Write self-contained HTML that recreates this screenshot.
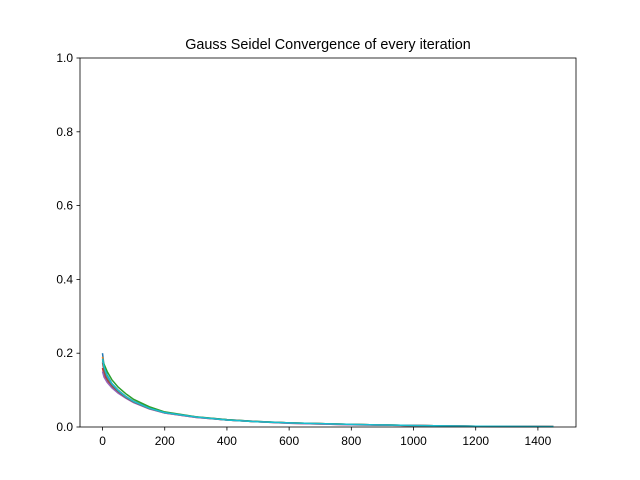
<!DOCTYPE html>
<html><head><meta charset="utf-8"><style>
body{margin:0;background:#fff;}
svg{display:block;font-family:"Liberation Sans",sans-serif;}
</style></head><body>
<svg id="chart" width="640" height="480" xmlns="http://www.w3.org/2000/svg">
<rect width="640" height="480" fill="#fff"/>
<text x="328" y="49" text-anchor="middle" font-size="14.4">Gauss Seidel Convergence of every iteration</text>
<g id="series"></g>
<rect x="80" y="58" width="496" height="369" fill="none" stroke="#000" stroke-width="0.8"/>
<g id="xticks"></g>
<g id="yticks"></g>
</svg>
<script>
const xSamples=[0,5,15,30,50,75,100,150,200,300,400,500,600,800,1000,1200,1450];
const series1=[0.200,0.165,0.140,0.118,0.100,0.083,0.070,0.052,0.040,0.027,0.020,0.015,0.011,0.007,0.004,0.002,0.001];
const series2=[0.190,0.160,0.137,0.116,0.099,0.082,0.069,0.051,0.039,0.027,0.019,0.014,0.011,0.007,0.004,0.002,0.001];
const series3=[0.180,0.170,0.150,0.128,0.108,0.090,0.075,0.055,0.041,0.028,0.020,0.015,0.011,0.007,0.004,0.002,0.001];
const series4=[0.160,0.140,0.125,0.108,0.094,0.079,0.067,0.050,0.038,0.026,0.019,0.014,0.010,0.006,0.004,0.002,0.001];
const series5=[0.150,0.135,0.121,0.106,0.092,0.078,0.066,0.049,0.038,0.026,0.019,0.014,0.010,0.006,0.004,0.002,0.001];
const series6=[0.175,0.150,0.130,0.112,0.096,0.080,0.068,0.050,0.039,0.027,0.019,0.014,0.011,0.007,0.004,0.002,0.001];
const series7=[0.185,0.162,0.138,0.117,0.099,0.082,0.069,0.051,0.039,0.027,0.019,0.014,0.011,0.007,0.004,0.002,0.001];
const allSeries=[series1,series2,series3,series4,series5,series6,series7];
const colors=["#1f77b4","#ff7f0e","#2ca02c","#d62728","#9467bd","#8c564b","#17becf"];
const xTicks=[0,200,400,600,800,1000,1200,1400];
const yTicks=[0,0.2,0.4,0.6,0.8,1.0];
const yTickLabels=["0.0","0.2","0.4","0.6","0.8","1.0"];
const X0=80,X1=576,Y0=427,Y1=58,xmin=-72.5,xmax=1522.5;
function sx(v){return X0+(v-xmin)/(xmax-xmin)*(X1-X0);}
function sy(v){return Y0-v*(Y0-Y1);}
const NS="http://www.w3.org/2000/svg";
const sg=document.getElementById('series');
allSeries.forEach((s,i)=>{
  const p=document.createElementNS(NS,'polyline');
  
  
  p.setAttribute('points',s.map((v,j)=>sx(xSamples[j]).toFixed(1)+','+sy(v).toFixed(1)).join(' '));
  p.setAttribute('fill','none');p.setAttribute('stroke',colors[i]);p.setAttribute('stroke-width','1.5');
  sg.appendChild(p);
});
const xg=document.getElementById('xticks');
xTicks.forEach(t=>{
  const l=document.createElementNS(NS,'line');
  
  
  l.setAttribute('x1',sx(t));l.setAttribute('x2',sx(t));l.setAttribute('y1',Y0);l.setAttribute('y2',Y0+3.5);l.setAttribute('stroke','#000');l.setAttribute('stroke-width','0.8');
  xg.appendChild(l);
  const tx=document.createElementNS(NS,'text');
  
  
  tx.setAttribute('x',sx(t));tx.setAttribute('y',Y0+18);tx.setAttribute('text-anchor','middle');tx.setAttribute('font-size','12');
  tx.textContent=t;xg.appendChild(tx);
});
const yg=document.getElementById('yticks');
yTicks.forEach((t,i)=>{
  const l=document.createElementNS(NS,'line');
  
  
  l.setAttribute('x1',X0-3.5);l.setAttribute('x2',X0);l.setAttribute('y1',sy(t));l.setAttribute('y2',sy(t));l.setAttribute('stroke','#000');l.setAttribute('stroke-width','0.8');
  yg.appendChild(l);
  const tx=document.createElementNS(NS,'text');
  
  
  tx.setAttribute('x',X0-7);tx.setAttribute('y',sy(t)+4);tx.setAttribute('text-anchor','end');tx.setAttribute('font-size','12');
  tx.textContent=yTickLabels[i];yg.appendChild(tx);
});
</script>
</body></html>
